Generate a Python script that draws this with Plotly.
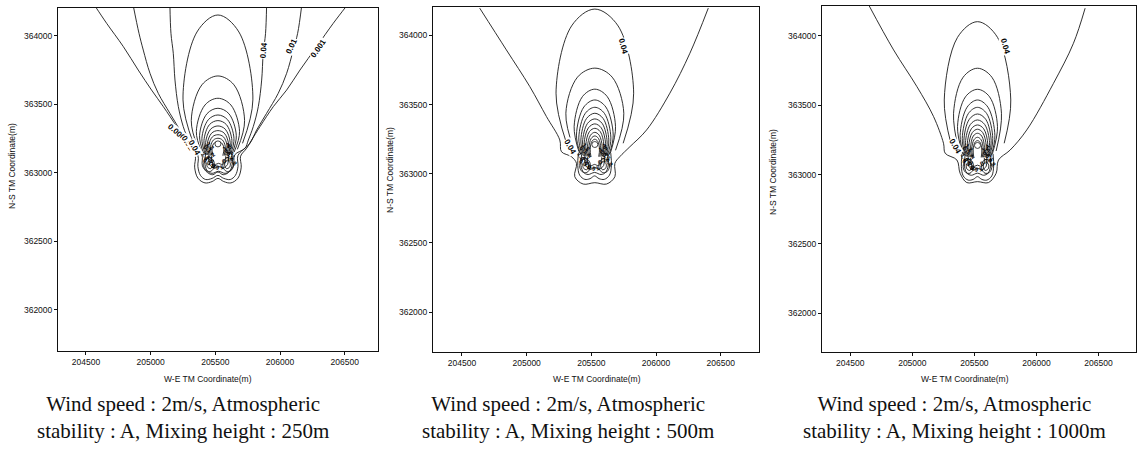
import plotly.graph_objects as go

# ---------------- axis / tick data ----------------
X_TICKS = [204500, 205000, 205500, 206000, 206500]
X_TICK_TEXT = ["204500", "205000", "205500", "206000", "206500"]
Y_TICKS = [362000, 362500, 363000, 363500, 364000]
Y_TICK_TEXT = ["362000", "362500", "363000", "363500", "364000"]

X_TITLE = "W-E TM Coordinate(m)"
Y_TITLE = "N-S TM Coordinate(m)"
CAPTIONS = [
    "Wind speed : 2m/s, Atmospheric<br>stability : A, Mixing height : 250m",
    "Wind speed : 2m/s, Atmospheric<br>stability : A, Mixing height : 500m",
    "Wind speed : 2m/s, Atmospheric<br>stability : A, Mixing height : 1000m",
]

X_RANGES = [[204284, 206757], [204276, 206796], [204272, 206802]]
Y_RANGES = [[361698, 364202], [361712, 364206], [361720, 364216]]

SOURCE_X = [205520, 205527, 205525]
SOURCE_Y = [363210, 363212, 363210]

# ---------------- panel 1 (mixing height 250 m) open contours ----------------
P1_C001_X = [204570, 204660, 204789, 204904, 205007, 205098, 205201, 205265, 205304,
             205345, 205340, 205365, 205420, 205475, 205520, 205565, 205620, 205675,
             205700, 205695, 205742, 205780, 205845, 205948, 206051, 206154, 206283,
             206411, 206514]
P1_C001_Y = [364217, 364090, 363920, 363749, 363603, 363482, 363336, 363238, 363178,
             363120, 363040, 362960, 362925, 362935, 362958, 362935, 362925, 362960,
             363040, 363120, 363178, 363238, 363336, 363482, 363603, 363749, 363920,
             364090, 364217]
P1_C01_X = [204866, 204910, 204943, 204995, 205059, 205149, 205226, 205278,
            205365, 205365, 205385, 205425, 205475, 205520, 205565, 205615, 205655,
            205675, 205675, 205767, 205819, 205896, 205986, 206051, 206102, 206136, 206167]
P1_C01_Y = [364217, 364017, 363895, 363725, 363579, 363433, 363311, 363214,
            363125, 363045, 362980, 362950, 362958, 362980, 362958, 362950, 362980,
            363045, 363125, 363214, 363311, 363433, 363579, 363725, 363895, 364017, 364217]
P1_C04_X = [205149, 205157, 205175, 205188, 205214, 205252, 205291, 205317,
            205395, 205400, 205440, 205480, 205520, 205560, 205600, 205640, 205650,
            205729, 205755, 205793, 205832, 205858, 205870, 205888, 205896]
P1_C04_Y = [364217, 364017, 363871, 363676, 363482, 363336, 363238, 363178,
            363130, 363050, 363000, 362985, 363005, 362985, 363000, 363050, 363130,
            363178, 363238, 363336, 363482, 363676, 363871, 364017, 364217]

# nested plume contours: top y, half width, widest y, shoulder y, shoulder half width, bottom y, bottom half width
P1_ELL_TOP = [364151, 363706, 363543, 363470, 363421, 363380, 363341, 363307, 363277, 363251, 363226]
P1_ELL_HW = [270, 206, 167, 142, 124, 108, 95, 82, 70, 57, 46]
P1_ELL_MID = [363531, 363380, 363300, 363270, 363250, 363235, 363220, 363210, 363200, 363190, 363180]
P1_ELL_SHY = [364027, 363641, 363494, 363430, 363387, 363351, 363317, 363288, 363262, 363239, 363217]
P1_ELL_SHW = [162, 124, 100, 85, 74, 65, 57, 49, 42, 34, 28]
P1_ELL_BOT = [363214, 363170, 363150, 363140, 363135, 363130, 363128, 363126, 363125, 363124, 363124]
P1_ELL_BHW = [190, 150, 125, 110, 98, 88, 78, 68, 58, 48, 38]

# ---------------- panel 2 (mixing height 500 m) ----------------
P2_OUT_X = [204637, 204843, 205024, 205153, 205256, 205269, 205346, 205385, 205372,
            205437, 205527, 205617, 205682, 205682, 205720, 205798, 205927, 206107,
            206262, 206404]
P2_OUT_Y = [364198, 363896, 363631, 363414, 363245, 363160, 363124, 363076, 362979,
            362926, 362936, 362926, 362979, 363076, 363124, 363196, 363317, 363583,
            363872, 364198]
P2_ELL_TOP = [364191, 363764, 363612, 363534, 363481, 363438, 363397, 363361, 363329, 363300, 363274, 363250]
P2_ELL_HW = [300, 224, 160, 142, 124, 108, 95, 83, 70, 57, 46, 36]
P2_ELL_MID = [363583, 363438, 363341, 363280, 363260, 363245, 363230, 363218, 363207, 363196, 363186, 363178]
P2_ELL_SHY = [364069, 363699, 363558, 363483, 363437, 363399, 363364, 363332, 363305, 363279, 363256, 363236]
P2_ELL_SHW = [180, 134, 96, 85, 74, 65, 57, 50, 42, 34, 28, 22]
P2_ELL_BOT = [363221, 363170, 363150, 363140, 363135, 363130, 363128, 363126, 363125, 363124, 363124, 363124]
P2_ELL_BHW = [219, 160, 120, 110, 98, 88, 78, 68, 58, 48, 38, 30]

# ---------------- panel 3 (mixing height 1000 m) ----------------
P3_OUT_X = [204648, 204849, 205037, 205171, 205251, 205265, 205359, 205385, 205439,
            205525, 205613, 205675, 205694, 205788, 205922, 206137, 206298, 206392]
P3_OUT_Y = [364224, 363899, 363634, 363418, 363226, 363153, 363105, 363009, 362942,
            362949, 362942, 363009, 363105, 363177, 363322, 363658, 363947, 364200]
P3_ELL_TOP = [364103, 363767, 363615, 363538, 363485, 363437, 363394, 363358, 363327, 363298, 363269, 363245]
P3_ELL_HW = [268, 193, 161, 140, 123, 110, 97, 83, 70, 56, 46, 35]
P3_ELL_MID = [363538, 363442, 363346, 363280, 363260, 363245, 363230, 363218, 363207, 363196, 363186, 363178]
P3_ELL_SHY = [363990, 363702, 363561, 363486, 363440, 363399, 363361, 363330, 363303, 363278, 363252, 363232]
P3_ELL_SHW = [161, 116, 97, 84, 74, 66, 58, 50, 42, 34, 28, 21]
P3_ELL_BOT = [363226, 363170, 363150, 363140, 363135, 363130, 363128, 363126, 363125, 363124, 363124, 363124]
P3_ELL_BHW = [215, 150, 120, 110, 98, 88, 78, 68, 58, 48, 38, 30]

# inner "butterfly" contours below the source
BF_A_X = [205400, 205395, 205410, 205450, 205490, 205525, 205560, 205600, 205640, 205655, 205650]
BF_A_Y = [363150, 363060, 362990, 362960, 362965, 362985, 362965, 362960, 362990, 363060, 363150]
BF_B_X = [205425, 205420, 205440, 205475, 205525, 205575, 205610, 205630, 205625]
BF_B_Y = [363140, 363060, 363010, 362995, 363010, 362995, 363010, 363060, 363140]
BF_C_X = [205450, 205455, 205490, 205525, 205560, 205595, 205600]
BF_C_Y = [363130, 363060, 363035, 363045, 363035, 363060, 363130]
BF_D_X = [205470, 205475, 205500, 205525, 205550, 205575, 205580]
BF_D_Y = [363120, 363075, 363060, 363068, 363060, 363075, 363120]

# small closed loops in the two lobes beside the source
LOBE_L1_X = [205455, 205420, 205410, 205430, 205465, 205490, 205485, 205455]
LOBE_L1_Y = [363110, 363090, 363050, 363015, 363010, 363040, 363090, 363110]
LOBE_L2_X = [205455, 205435, 205440, 205465, 205478, 205470, 205455]
LOBE_L2_Y = [363090, 363070, 363040, 363030, 363055, 363085, 363090]
LOBE_R1_X = [205595, 205630, 205640, 205620, 205585, 205560, 205565, 205595]
LOBE_R1_Y = [363110, 363090, 363050, 363015, 363010, 363040, 363090, 363110]
LOBE_R2_X = [205595, 205615, 205610, 205585, 205572, 205580, 205595]
LOBE_R2_Y = [363090, 363070, 363040, 363030, 363055, 363085, 363090]

# crowded contour labels around the source
CL_X = [205440, 205470, 205440, 205480, 205600, 205620, 205585, 205640, 205500, 205555,
        205460, 205590, 205420, 205625]
CL_Y = [363170, 363120, 363080, 363060, 363170, 363120, 363090, 363080, 363040, 363040,
        363195, 363195, 363120, 363140]
CL_TXT = ["0.1", "0.2", "0.3", "0.4", "0.5", "0.6", "0.7", "0.8", "0.9", "1",
          "1.2", "1.4", "1.8", "2"]
CL_ANG = [40, -40, 30, 60, -50, 40, -30, 50, 20, -20, 45, -45, 60, -70]

# labelled contour values: panel, x, y, text, angle
LBL_PANEL = [1, 1, 1, 1, 1, 1, 2, 2, 3, 3]
LBL_X = [205870, 206089, 206295, 205214, 205290, 205335, 205746, 205333, 205748, 205345]
LBL_Y = [363895, 363920, 363908, 363285, 363215, 363180, 363920, 363196, 363923, 363202]
LBL_TXT = ["0.04", "0.01", "0.001", "0.0001", "0.01", "0.04", "0.04", "0.04", "0.04", "0.04"]
LBL_ANG = [-85, -65, -55, 40, 55, 60, 75, 60, 75, 60]

LINE = dict(color="#1a1a1a", width=0.9, shape="spline", smoothing=1.0)

fig = go.Figure()


def add_line(xs, ys, k):
    fig.add_trace(go.Scatter(x=xs, y=ys, mode="lines", line=LINE, hoverinfo="skip",
                             showlegend=False, xaxis=f"x{k}", yaxis=f"y{k}"))


def add_plume(k, x0, tops, hws, mids, shys, shws, bots, bhws):
    for t, w, m, sy, sw, b, bw in zip(tops, hws, mids, shys, shws, bots, bhws):
        add_line([x0 - bw, x0 - w, x0 - sw, x0, x0 + sw, x0 + w, x0 + bw],
                 [b, m, sy, t, sy, m, b], k)


LOBES = [(LOBE_L1_X, LOBE_L1_Y), (LOBE_L2_X, LOBE_L2_Y), (LOBE_R1_X, LOBE_R1_Y), (LOBE_R2_X, LOBE_R2_Y)]

# panel 1
add_line(P1_C001_X, P1_C001_Y, 1)
add_line(P1_C01_X, P1_C01_Y, 1)
add_line(P1_C04_X, P1_C04_Y, 1)
add_plume(1, SOURCE_X[0], P1_ELL_TOP, P1_ELL_HW, P1_ELL_MID, P1_ELL_SHY, P1_ELL_SHW, P1_ELL_BOT, P1_ELL_BHW)
for bx, by in [(BF_B_X, BF_B_Y), (BF_C_X, BF_C_Y), (BF_D_X, BF_D_Y)] + LOBES:
    add_line(bx, by, 1)
# panel 2
add_line(P2_OUT_X, P2_OUT_Y, 2)
add_plume(2, SOURCE_X[1], P2_ELL_TOP, P2_ELL_HW, P2_ELL_MID, P2_ELL_SHY, P2_ELL_SHW, P2_ELL_BOT, P2_ELL_BHW)
for bx, by in [(BF_A_X, BF_A_Y), (BF_B_X, BF_B_Y), (BF_C_X, BF_C_Y), (BF_D_X, BF_D_Y)] + LOBES:
    add_line(bx, by, 2)
# panel 3
add_line(P3_OUT_X, P3_OUT_Y, 3)
add_plume(3, SOURCE_X[2], P3_ELL_TOP, P3_ELL_HW, P3_ELL_MID, P3_ELL_SHY, P3_ELL_SHW, P3_ELL_BOT, P3_ELL_BHW)
for bx, by in [(BF_A_X, BF_A_Y), (BF_B_X, BF_B_Y), (BF_C_X, BF_C_Y), (BF_D_X, BF_D_Y)] + LOBES:
    add_line(bx, by, 3)

# source markers
for k in range(3):
    fig.add_trace(go.Scatter(x=[SOURCE_X[k], SOURCE_X[k]], y=[SOURCE_Y[k] - 100, SOURCE_Y[k] - 10],
                             mode="lines", line=dict(color="white", width=4), hoverinfo="skip",
                             showlegend=False, xaxis=f"x{k+1}", yaxis=f"y{k+1}"))
    fig.add_trace(go.Scatter(x=[SOURCE_X[k]], y=[SOURCE_Y[k]], mode="markers",
                             marker=dict(color="white", size=6, line=dict(color="#1a1a1a", width=0.8)),
                             hoverinfo="skip", showlegend=False, xaxis=f"x{k+1}", yaxis=f"y{k+1}"))

annotations = []
for k in range(3):
    for x, y, t, a in zip(CL_X, CL_Y, CL_TXT, CL_ANG):
        annotations.append(dict(x=x, y=y, xref=f"x{k+1}", yref=f"y{k+1}", text=f"<b>{t}</b>",
                                showarrow=False, textangle=a,
                                font=dict(size=6, color="black", family="Liberation Sans")))
for p, x, y, t, a in zip(LBL_PANEL, LBL_X, LBL_Y, LBL_TXT, LBL_ANG):
    annotations.append(dict(x=x, y=y, xref=f"x{p}", yref=f"y{p}", text=f"<b>{t}</b>", showarrow=False,
                            textangle=a, font=dict(size=8, color="black", family="Liberation Sans"),
                            bgcolor="white", borderpad=0))

W, H = 1137, 458
X_DOM = [[58 / W, 378 / W], [433 / W, 759 / W], [822 / W, 1136 / W]]
Y_DOM = [[1 - 351 / H, 1 - 8 / H], [1 - 352 / H, 1 - 7 / H], [1 - 352 / H, 1 - 6 / H]]
XT_CX = [208, 597, 965]
YT_CX = [12, 390, 773]
YT_CY = [166, 170, 172]
CAP_CX = [183, 568, 954]

for k in range(3):
    annotations.append(dict(x=XT_CX[k] / W, y=1 - 379 / H, xref="paper", yref="paper", text=X_TITLE,
                            showarrow=False, font=dict(size=8.5, color="#111", family="Liberation Sans"),
                            xanchor="center", yanchor="middle"))
    annotations.append(dict(x=YT_CX[k] / W, y=1 - YT_CY[k] / H, xref="paper", yref="paper", text=Y_TITLE,
                            showarrow=False, textangle=-90,
                            font=dict(size=8.5, color="#111", family="Liberation Sans"),
                            xanchor="center", yanchor="middle"))
    annotations.append(dict(x=CAP_CX[k] / W, y=1 - 417 / H, xref="paper", yref="paper", text=CAPTIONS[k],
                            showarrow=False, align="center",
                            font=dict(size=21, color="#111", family="Liberation Serif"),
                            xanchor="center", yanchor="middle"))

layout = dict(width=W, height=H, margin=dict(l=0, r=0, t=0, b=0), paper_bgcolor="white",
              plot_bgcolor="white", showlegend=False, annotations=annotations)
for k in range(3):
    sfx = "" if k == 0 else str(k + 1)
    layout[f"xaxis{sfx}"] = dict(domain=X_DOM[k], range=X_RANGES[k], tickvals=X_TICKS, ticktext=X_TICK_TEXT,
                                 showgrid=False, zeroline=False, showline=True, linecolor="#111", linewidth=1,
                                 mirror=True, ticks="outside", ticklen=3, tickcolor="#111",
                                 tickfont=dict(size=8.5, color="#111", family="Liberation Sans"),
                                 anchor=f"y{k+1}", fixedrange=True)
    layout[f"yaxis{sfx}"] = dict(domain=Y_DOM[k], range=Y_RANGES[k], tickvals=Y_TICKS, ticktext=Y_TICK_TEXT,
                                 showgrid=False, zeroline=False, showline=True, linecolor="#111", linewidth=1,
                                 mirror=True, ticks="outside", ticklen=3, tickcolor="#111",
                                 tickfont=dict(size=8.5, color="#111", family="Liberation Sans"),
                                 anchor=f"x{k+1}", fixedrange=True)
fig.update_layout(**layout)
fig.write_html("out.html")
